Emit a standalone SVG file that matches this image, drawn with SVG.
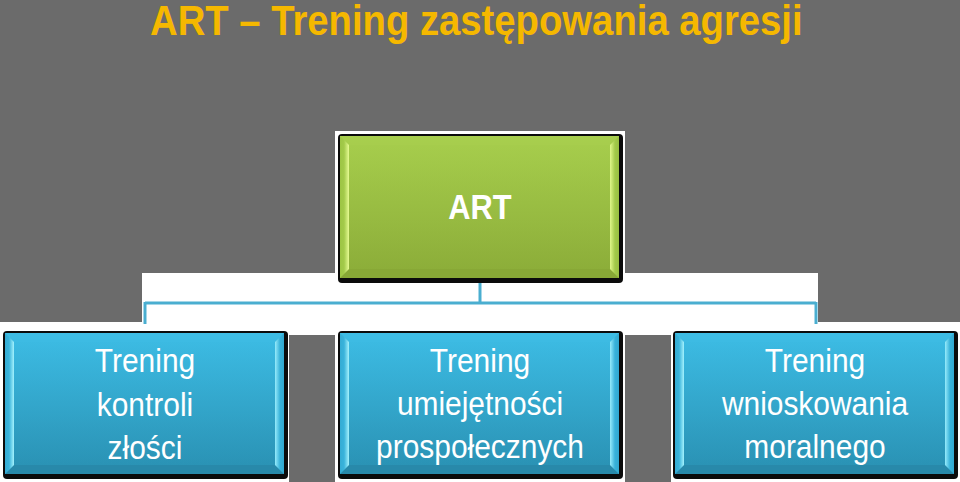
<svg xmlns="http://www.w3.org/2000/svg" width="960" height="482" viewBox="0 0 960 482">
<defs>
<linearGradient id="gGreen" x1="0" y1="0" x2="0" y2="1"><stop offset="0" stop-color="#a6cd4c"/><stop offset="1" stop-color="#8cad39"/></linearGradient>
<linearGradient id="gBlue" x1="0" y1="0" x2="0" y2="1"><stop offset="0" stop-color="#3cbbe3"/><stop offset="1" stop-color="#2a92b4"/></linearGradient>
<linearGradient id="glG" x1="0" y1="0" x2="1" y2="0"><stop offset="0" stop-color="#9dc545"/><stop offset="0.45" stop-color="#a3ca4a"/><stop offset="1" stop-color="#e6fb92"/></linearGradient>
<linearGradient id="grG" x1="0" y1="0" x2="1" y2="0"><stop offset="0" stop-color="#e0f78a"/><stop offset="0.55" stop-color="#a3ca4a"/><stop offset="1" stop-color="#98bf42"/></linearGradient>
<linearGradient id="glB" x1="0" y1="0" x2="1" y2="0"><stop offset="0" stop-color="#35acd4"/><stop offset="0.45" stop-color="#39b3db"/><stop offset="1" stop-color="#a4f2fd"/></linearGradient>
<linearGradient id="grB" x1="0" y1="0" x2="1" y2="0"><stop offset="0" stop-color="#96ebfb"/><stop offset="0.55" stop-color="#38b2da"/><stop offset="1" stop-color="#32a8cf"/></linearGradient>
</defs>
<style>
.bg{fill:#6b6b6b}
.wh{fill:#ffffff}
.frame{fill:#0b0b0b}
.conn{stroke:#4aaed0;stroke-width:3;fill:none}
.bot-g{fill:#88a836}
.bot-b{fill:#2889aa}
.top-g{fill:#a9cf50}
.top-b{fill:#3fbee6}
.title{font-family:"Liberation Sans",Arial,sans-serif;font-weight:bold;font-size:43px;fill:#f5b800}
.lbl{font-family:"Liberation Sans",Arial,sans-serif;font-size:34px;fill:#ffffff;text-anchor:middle}
.lblb{font-family:"Liberation Sans",Arial,sans-serif;font-weight:bold;font-size:35px;fill:#ffffff;text-anchor:middle}
</style>
<rect class="bg" x="0" y="0" width="960" height="482"/>
<text class="title" transform="translate(150,35) scale(0.89,1)" x="0" y="0">ART – Trening zastępowania agresji</text>
<rect class="wh" x="335" y="131" width="290" height="144"/>
<rect class="wh" x="142" y="273" width="676" height="62"/>
<rect class="wh" x="0" y="322" width="289" height="160"/>
<rect class="wh" x="335" y="322" width="290" height="160"/>
<rect class="wh" x="671" y="322" width="289" height="160"/>
<g id="connectors">
<line class="conn" x1="480" y1="283" x2="480" y2="303"/>
<line class="conn" x1="145" y1="303" x2="816" y2="303"/>
<line class="conn" x1="145" y1="302" x2="145" y2="324"/>
<line class="conn" x1="816" y1="302" x2="816" y2="324"/>
</g>
<g id="art">
<rect class="frame" x="338" y="134" width="285" height="149" rx="4"/>
<rect x="340" y="136" width="279" height="142" fill="url(#gGreen)"/>
<polygon class="top-g" points="340,136 619,136 610,145 349,145" opacity="0.5"/>
<polygon class="bot-g" points="340,278 619,278 610,269 349,269"/>
<polygon fill="url(#glG)" points="340,136 349,145 349,269 340,278"/>
<polygon fill="url(#grG)" points="619,136 610,145 610,269 619,278"/>
<rect x="349" y="145" width="261" height="124" fill="url(#gGreen)" opacity="0.6"/>
<text class="lblb" transform="translate(480,219) scale(0.88,1)" x="0" y="0">ART</text>
</g>
<g id="anger">
<rect class="frame" x="3" y="331" width="285" height="148" rx="4"/>
<rect x="5" y="333" width="279" height="141" fill="url(#gBlue)"/>
<polygon class="top-b" points="5,333 284,333 275,342 14,342" opacity="0.5"/>
<polygon class="bot-b" points="5,474 284,474 275,465 14,465"/>
<polygon fill="url(#glB)" points="5,333 14,342 14,465 5,474"/>
<polygon fill="url(#grB)" points="284,333 275,342 275,465 284,474"/>
<rect x="14" y="342" width="261" height="123" fill="url(#gBlue)" opacity="0.6"/>
<text class="lbl" transform="translate(145,0) scale(0.88,1)"><tspan x="0" y="372">Trening</tspan><tspan x="0" y="416">kontroli</tspan><tspan x="0" y="459">złości</tspan></text>
</g>
<g id="prosocial">
<rect class="frame" x="338" y="331" width="285" height="148" rx="4"/>
<rect x="340" y="333" width="279" height="141" fill="url(#gBlue)"/>
<polygon class="top-b" points="340,333 619,333 610,342 349,342" opacity="0.5"/>
<polygon class="bot-b" points="340,474 619,474 610,465 349,465"/>
<polygon fill="url(#glB)" points="340,333 349,342 349,465 340,474"/>
<polygon fill="url(#grB)" points="619,333 610,342 610,465 619,474"/>
<rect x="349" y="342" width="261" height="123" fill="url(#gBlue)" opacity="0.6"/>
<text class="lbl" transform="translate(480,0) scale(0.88,1)"><tspan x="0" y="372">Trening</tspan><tspan x="0" y="415">umiejętności</tspan><tspan x="0" y="458">prospołecznych</tspan></text>
</g>
<g id="moral">
<rect class="frame" x="673" y="331" width="285" height="148" rx="4"/>
<rect x="675" y="333" width="279" height="141" fill="url(#gBlue)"/>
<polygon class="top-b" points="675,333 954,333 945,342 684,342" opacity="0.5"/>
<polygon class="bot-b" points="675,474 954,474 945,465 684,465"/>
<polygon fill="url(#glB)" points="675,333 684,342 684,465 675,474"/>
<polygon fill="url(#grB)" points="954,333 945,342 945,465 954,474"/>
<rect x="684" y="342" width="261" height="123" fill="url(#gBlue)" opacity="0.6"/>
<text class="lbl" transform="translate(815,0) scale(0.88,1)"><tspan x="0" y="372">Trening</tspan><tspan x="0" y="415">wnioskowania</tspan><tspan x="0" y="458">moralnego</tspan></text>
</g>
</svg>
